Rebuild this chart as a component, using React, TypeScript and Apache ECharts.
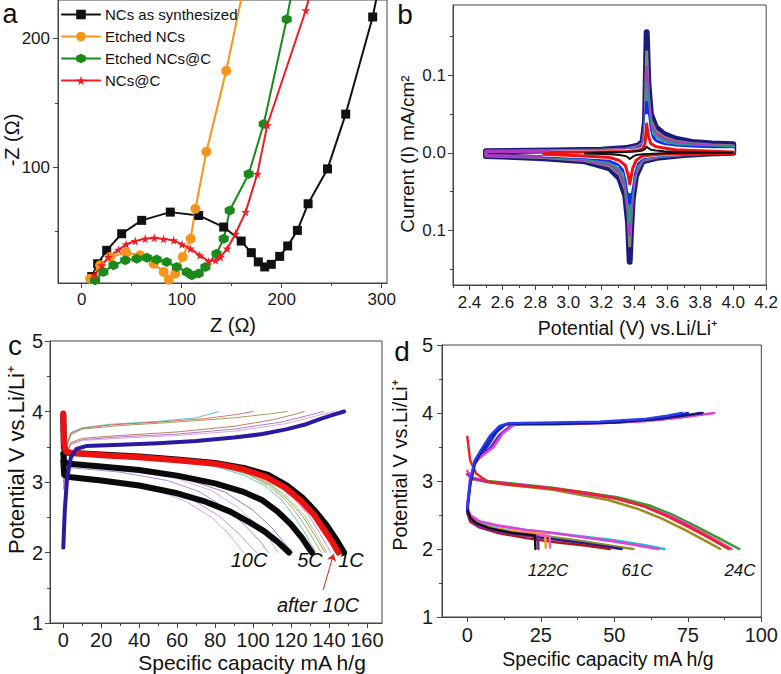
import React, { useEffect, useRef } from "react";
import * as echarts from "echarts";

const FONT = "'Liberation Sans', Arial, Helvetica, sans-serif";

// ---------------- Panel a : Nyquist plots ----------------
const A_NAMES = ["NCs as synthesized", "Etched NCs", "Etched NCs@C", "NCs@C"];
const A_BLACK = [[10,15],[16,25],[25,35.4],[40,48.3],[60,58.7],[88.6,65.1],[117,62.5],[142,53.5],[159.5,42.6],[169.6,33.6],[176.6,26.4],[183,22.5],[189.6,24.5],[198,30.7],[206,38.8],[215.7,50.9],[226.4,71.6],[245.8,98.7],[264,141.3],[291,216.8],[297,240]];
const A_ORANGE = [[8.4,13.4],[18.4,23.8],[28.4,30.2],[44.5,33.6],[58.5,31.5],[72,25],[82,18.6],[87,12.5],[93.6,17.3],[101,30.2],[109,44.4],[113.7,67.7],[124.7,112],[144.5,175],[162,240]];
const A_GREEN = [[13.4,12.1],[21.7,18.6],[31.8,23.8],[43.5,27.6],[55,28.9],[65.2,29.7],[75,28.2],[85,26.4],[95,22.5],[105,18.6],[110,16],[117,17.3],[123.7,22.5],[134.8,32.8],[142,44.4],[148,66.4],[167,94.8],[182,133.6],[205,215],[211,240]];
const A_RED = [[12.7,16],[20.1,23.8],[26.8,30.2],[36.8,35.9],[44.5,40.1],[53.5,42.6],[63.5,44.4],[72.6,45.2],[81.9,44.2],[92,43.2],[100.3,40.1],[108.7,36.7],[118.1,31.5],[127.1,26.9],[133.8,27.6],[138.8,30.2],[145.5,36.7],[153.8,48.3],[163.9,65.1],[175.6,94.8],[185.6,132.8],[224.1,222],[230,240]];
const A_X_MAJOR = [0, 100, 200, 300];
const A_X_MINOR = [50, 150, 250];
const A_Y_MAJOR = [100, 200];
const A_Y_MINOR = [50, 150];

// ---------------- Panel b : cyclic voltammetry ----------------
const B_POT_ANODIC = [2.5, 2.9, 3.2, 3.35, 3.42, 3.45, 3.465, 3.475, 3.485, 3.5, 3.53, 3.58, 3.65, 3.75, 3.87, 4.0];
const B_POT_CATHODIC = [4.0, 3.85, 3.7, 3.55, 3.45, 3.41, 3.39, 3.38, 3.372, 3.362, 3.345, 3.31, 3.25, 3.1, 2.85, 2.5];
const B_NAVY_A = [0.002, 0.003, 0.004, 0.006, 0.009, 0.014, 0.04, 0.155, 0.09, 0.05, 0.033, 0.024, 0.018, 0.014, 0.012, 0.011];
const B_NAVY_C = [0.0, -0.001, -0.003, -0.006, -0.011, -0.03, -0.06, -0.1, -0.14, -0.09, -0.055, -0.033, -0.02, -0.011, -0.007, -0.004];
const B_OLIVE_A = [0.002, 0.0025, 0.0035, 0.005, 0.008, 0.012, 0.035, 0.13, 0.075, 0.042, 0.028, 0.02, 0.015, 0.012, 0.01, 0.009];
const B_OLIVE_C = [0.0, -0.001, -0.0025, -0.005, -0.01, -0.026, -0.052, -0.085, -0.12, -0.078, -0.047, -0.028, -0.017, -0.01, -0.006, -0.004];
const B_PURPLE_A = [0.0015, 0.002, 0.003, 0.0045, 0.007, 0.011, 0.03, 0.11, 0.065, 0.037, 0.025, 0.018, 0.013, 0.011, 0.009, 0.008];
const B_PURPLE_C = [0.0, -0.001, -0.002, -0.0045, -0.009, -0.023, -0.046, -0.075, -0.105, -0.07, -0.042, -0.025, -0.015, -0.009, -0.0055, -0.0035];
const B_TEAL_A = [null, 0.002, 0.0025, 0.004, 0.006, 0.01, 0.026, 0.09, 0.055, 0.032, 0.021, 0.015, 0.011, 0.009, 0.008, 0.007];
const B_TEAL_C = [0.0, -0.001, -0.002, -0.004, -0.008, -0.02, -0.04, -0.065, -0.09, -0.06, -0.036, -0.021, -0.013, -0.008, -0.005, null];
const B_BLUE_A = [null, 0.0015, 0.002, 0.003, 0.005, 0.008, 0.02, 0.065, 0.04, 0.024, 0.016, 0.011, 0.008, 0.007, 0.006, 0.005];
const B_BLUE_C = [0.0, -0.001, -0.0015, -0.003, -0.006, -0.016, -0.032, -0.05, -0.065, -0.045, -0.027, -0.016, -0.01, -0.006, -0.004, null];
const B_WHITE_A = [null, 0.001, 0.0015, 0.0025, 0.004, 0.006, 0.015, 0.048, 0.03, 0.017, 0.011, 0.008, 0.006, 0.005, 0.004, 0.004];
const B_WHITE_C = [0.0, -0.0005, -0.001, -0.0025, -0.005, -0.012, -0.025, -0.04, -0.05, -0.035, -0.02, -0.012, -0.007, -0.005, -0.003, null];
const B_RED_A = [null, 0.0008, 0.001, 0.0015, 0.003, 0.005, 0.012, 0.037, 0.022, 0.012, 0.008, 0.006, 0.004, 0.003, 0.002, 0.001];
const B_RED_C = [-0.001, -0.001, -0.001, -0.002, -0.004, -0.01, -0.02, -0.032, -0.04, -0.028, -0.016, -0.01, -0.006, -0.004, -0.002, null];
const B_BLACK_A = [null, null, 0.0005, 0.001, 0.002, 0.003, 0.005, 0.008, 0.006, 0.004, 0.003, 0.002, 0.001, 0.001, 0.0, 0.0];
const B_BLACK_C = [0.0, 0.0, 0.0, -0.001, -0.002, -0.003, -0.005, -0.007, -0.008, -0.006, -0.004, -0.003, -0.002, -0.001, null, null];
const B_X_MAJOR = [2.4, 2.6, 2.8, 3.0, 3.2, 3.4, 3.6, 3.8, 4.0, 4.2];
const B_X_MINOR = [2.3, 2.5, 2.7, 2.9, 3.1, 3.3, 3.5, 3.7, 3.9, 4.1];
const B_Y_MAJOR = [-0.1, 0, 0.1];
const B_Y_MINOR = [-0.15, -0.05, 0.05, 0.15];

// ---------------- Panel c : rate charge/discharge ----------------
const C_1C = [[0,3.95],[0.3,3.5],[1,3.42],[5,3.41],[20,3.39],[40,3.36],[60,3.32],[80,3.27],[95,3.2],[108,3.1],[118,2.95],[126,2.78],[133,2.58],[139,2.38],[144,2.18],[148,2.0]];
const C_AFTER10C = [[0,3.97],[0.3,3.55],[1.5,3.43],[5,3.41],[20,3.38],[40,3.35],[60,3.31],[80,3.26],[95,3.18],[107,3.07],[117,2.92],[125,2.74],[132,2.54],[137,2.34],[142,2.14],[145,2.0]];
const C_5C = [[0,3.4],[0.5,3.28],[3,3.26],[20,3.22],[40,3.17],[60,3.09],[80,2.98],[95,2.86],[105,2.74],[113,2.58],[120,2.4],[126,2.2],[131,2.0]];
const C_10C = [[0,3.3],[0.5,3.1],[3,3.07],[20,3.02],[40,2.95],[60,2.84],[75,2.72],[88,2.58],[98,2.43],[106,2.3],[113,2.15],[119,2.0]];
const C_CHARGE = [[0,2.07],[0.8,2.6],[2,3.05],[4,3.35],[7,3.47],[12,3.51],[30,3.53],[50,3.55],[70,3.58],[90,3.63],[105,3.68],[118,3.75],[128,3.82],[136,3.9],[143,3.96],[148,4.0]];
const C_THIN_CHARGE = [
  [[0.3,3.0],[1.5,3.5],[4,3.7],[10,3.77],[25,3.82],[50,3.86],[70,3.91],[82,4.0]],
  [[0.3,3.0],[1.5,3.5],[4,3.69],[10,3.76],[25,3.81],[50,3.85],[75,3.9],[92,3.96],[100,4.0]],
  [[0.3,3.0],[1.5,3.48],[4,3.67],[10,3.75],[30,3.8],[60,3.85],[90,3.91],[110,3.97],[118,4.0]],
  [[0.3,2.9],[1.5,3.4],[4,3.56],[10,3.62],[30,3.66],[60,3.71],[90,3.79],[110,3.88],[122,3.96],[127,4.0]],
  [[0.3,2.9],[1.5,3.38],[4,3.54],[10,3.6],[30,3.64],[60,3.68],[90,3.75],[115,3.85],[130,3.95],[137,4.0]],
  [[0.3,2.9],[1.5,3.36],[4,3.53],[10,3.59],[30,3.62],[60,3.66],[90,3.72],[118,3.83],[135,3.95],[143,4.0]],
];
const C_THIN_CHARGE_COLORS = ["#3cb8b0", "#d84848", "#8c8c3c", "#b0603a", "#8a60c8", "#e088c8"];
const C_THIN_DISCHARGE = [
  [[0,3.95],[0.5,3.45],[5,3.4],[30,3.36],[60,3.29],[80,3.22],[95,3.1],[106,2.95],[115,2.75],[122,2.5],[128,2.25],[133,2.0]],
  [[0,3.95],[0.5,3.45],[5,3.4],[30,3.37],[60,3.3],[82,3.23],[97,3.11],[108,2.95],[117,2.75],[124,2.52],[130,2.27],[136,2.0]],
  [[0.5,3.45],[5,3.41],[30,3.37],[60,3.3],[84,3.23],[99,3.12],[110,2.96],[119,2.77],[127,2.53],[133,2.28],[139,2.0]],
  [[0.5,3.45],[5,3.41],[30,3.37],[60,3.31],[85,3.24],[101,3.13],[112,2.97],[121,2.78],[129,2.54],[135,2.28],[141,2.0]],
  [[0.5,3.44],[5,3.4],[30,3.36],[60,3.3],[83,3.22],[98,3.11],[109,2.96],[118,2.76],[126,2.52],[132,2.27],[138,2.0]],
];
const C_THIN_DISCHARGE_COLORS = ["#40b4b4", "#98983a", "#e09858", "#e070b0", "#50a050"];
const C_THIN_MID = [
  [[0.5,3.1],[5,3.05],[30,2.98],[50,2.88],[65,2.72],[78,2.5],[86,2.3],[92,2.1],[95,2.0]],
  [[0.5,3.12],[5,3.06],[30,3.0],[50,2.9],[68,2.75],[82,2.52],[92,2.28],[99,2.08],[102,2.0]],
  [[0.5,3.2],[5,3.2],[30,3.14],[55,3.02],[72,2.86],[86,2.62],[96,2.38],[104,2.15],[108,2.0]],
  [[0.5,3.25],[5,3.24],[30,3.18],[60,3.05],[78,2.88],[92,2.64],[102,2.4],[109,2.18],[113,2.0]],
  [[0.5,3.26],[5,3.25],[35,3.18],[65,3.04],[85,2.86],[100,2.6],[110,2.35],[117,2.12],[121,2.0]],
];
const C_THIN_MID_COLORS = ["#b090e8", "#c070d0", "#9070d0", "#d090e0", "#7060c0"];
const C_ARROW = [[137, 1.47], [142.5, 1.98]];
const C_X_MAJOR = [0, 20, 40, 60, 80, 100, 120, 140, 160];
const C_X_MINOR = [10, 30, 50, 70, 90, 110, 130, 150];
const CD_Y_MAJOR = [1, 2, 3, 4, 5];
const CD_Y_MINOR = [1.5, 2.5, 3.5, 4.5];

// ---------------- Panel d : high-rate charge/discharge ----------------
const D_CHARGE = [
  [[0,2.6],[1,2.95],[2.5,3.25],[5,3.4],[7.5,3.55],[10,3.72],[13,3.83],[18,3.85],[30,3.85],[45,3.86],[60,3.89],[70,3.95],[75,4.0]],
  [[0,2.6],[1,3.0],[2.5,3.28],[5,3.38],[8,3.5],[11,3.68],[15,3.82],[20,3.84],[35,3.84],[50,3.86],[65,3.9],[75,3.95],[79,4.0]],
  [[0,2.65],[1,3.05],[3,3.3],[6,3.4],[9,3.5],[12,3.7],[16,3.83],[25,3.84],[45,3.85],[60,3.88],[75,3.95],[84,4.0]],
  [[0,2.55],[1,2.95],[2.5,3.25],[5,3.45],[8,3.65],[11,3.8],[14,3.84],[30,3.84],[50,3.86],[65,3.91],[75,3.97],[80,4.0]],
  [[0,2.6],[1,3.0],[2.5,3.3],[5,3.48],[8,3.68],[11,3.81],[14,3.85],[30,3.86],[45,3.87],[60,3.91],[68,3.96],[73,4.0]],
];
const D_CHARGE_COLORS = ["#1428e0", "#6a2aa8", "#e040e0", "#141a70", "#2a3cf0"];
const D_24C = [
  [[0,3.1],[1.5,3.03],[7,2.98],[29,2.87],[48,2.72],[58,2.59],[66,2.45],[74,2.28],[81,2.12],[86,2.0]],
  [[0,3.1],[1.5,3.05],[7,3.0],[29,2.9],[51,2.76],[62,2.64],[70,2.5],[78,2.33],[86,2.15],[92.5,2.0]],
  [[0,3.15],[1.5,3.05],[7,2.99],[29,2.89],[50,2.75],[61,2.62],[69,2.49],[77,2.32],[84,2.15],[90,2.0]],
  [[0,3.1],[1.5,3.04],[7,2.99],[29,2.89],[50,2.75],[60,2.63],[68,2.49],[76,2.32],[83,2.15],[89,2.0]],
  [[0,3.65],[1,3.3],[3,3.11],[7,2.99],[15,2.94],[29,2.89],[40,2.83],[51,2.74],[60,2.63],[68,2.48],[75,2.33],[82,2.17],[89,2.0]],
];
const D_24C_COLORS = ["#9a8a20", "#2ca02c", "#f050a0", "#c020c0", "#e8262a"];
const D_61C = [
  [[0,2.6],[1,2.48],[4,2.4],[10,2.34],[20,2.28],[30,2.23],[40,2.18],[50,2.13],[60,2.06],[67,2.0]],
  [[0,2.62],[1,2.5],[4,2.41],[10,2.35],[20,2.28],[30,2.23],[40,2.17],[50,2.11],[58,2.05],[65,2.0]],
  [[0,2.55],[1,2.45],[4,2.37],[10,2.3],[20,2.23],[30,2.17],[40,2.11],[50,2.04],[56.5,2.0]],
  [[0,2.55],[1,2.43],[4,2.35],[10,2.28],[20,2.2],[30,2.14],[40,2.08],[48,2.03],[52.5,2.0]],
  [[0,2.53],[1,2.4],[4,2.32],[10,2.24],[20,2.16],[30,2.1],[40,2.05],[48.5,2.0]],
];
const D_61C_COLORS = ["#20c0c0", "#e040e0", "#909030", "#202090", "#b01818"];
const D_122C = [
  [[0,2.56],[1,2.45],[3,2.37],[8,2.31],[16,2.26],[26.5,2.22],[26.7,2.02]],
  [[0,2.55],[1,2.44],[3,2.36],[8,2.3],[16,2.24],[28,2.19],[28.2,2.02]],
  [[0,2.55],[1,2.43],[3,2.35],[8,2.28],[15,2.22],[24,2.18],[24.2,2.0]],
  [[0,2.58],[1,2.46],[3,2.38],[8,2.3],[15,2.24],[23,2.2],[23.2,2.0]],
];
const D_122C_COLORS = ["#f0a020", "#f060c0", "#8020a0", "#111111"];
const D_X_MAJOR = [0, 25, 50, 75, 100];
const D_X_MINOR = [12.5, 37.5, 62.5, 87.5];

// ---------------- helpers ----------------
function axes(isX: boolean, gi: number, min: number, max: number, majors: number[], minors: number[], fontSize: number, margin: number, formatter?: (v: number) => string) {
  const pos = isX ? "bottom" : "left";
  return [
    {
      type: "value", gridIndex: gi, min, max, position: pos, scale: true,
      axisLine: { show: true, onZero: false, lineStyle: { color: "#444", width: 1 } },
      axisTick: { show: true, customValues: majors, length: 5, lineStyle: { color: "#444", width: 1 } },
      axisLabel: { show: true, customValues: majors, fontSize, fontFamily: FONT, color: "#1a1a1a", margin, formatter: formatter || ((v: number) => String(v)) },
      splitLine: { show: false },
    },
    {
      type: "value", gridIndex: gi, min, max, position: pos, scale: true,
      axisLine: { show: false, onZero: false },
      axisTick: { show: true, customValues: minors, length: 3, lineStyle: { color: "#444", width: 1 } },
      axisLabel: { show: false },
      splitLine: { show: false },
    },
  ];
}

function line(data: any[], color: string, width: number, gi: number, extra: any = {}) {
  return {
    type: "line", data, xAxisIndex: gi * 2, yAxisIndex: gi * 2,
    showSymbol: false, symbol: "none", smooth: false, silent: true, clip: true,
    lineStyle: { color, width, cap: "round", join: "round" }, itemStyle: { color },
    animation: false, ...extra,
  };
}

function loop(a: (number | null)[], c: (number | null)[]) {
  const pts: number[][] = [];
  B_POT_ANODIC.forEach((p, i) => { if (a[i] !== null) pts.push([p, a[i] as number]); });
  B_POT_CATHODIC.forEach((p, i) => { if (c[i] !== null) pts.push([p, c[i] as number]); });
  pts.push(pts[0]);
  return pts;
}

const HEX = "path://M5 0 L9.33 2.5 L9.33 7.5 L5 10 L0.67 7.5 L0.67 2.5 Z";
const STAR = "path://M50 0 L61 35 L98 35 L68 57 L79 91 L50 70 L21 91 L32 57 L2 35 L39 35 Z";

function txt(text: string, x: number, y: number, size: number, opts: any = {}) {
  return {
    type: "text", x, y, rotation: opts.rotation || 0, silent: true,
    style: {
      text, fill: opts.color || "#111", font: `${opts.italic ? "italic " : ""}${size}px ${FONT}`,
      align: "center", verticalAlign: "middle",
    },
  };
}

function buildOption() {
  const xAxis = [
    ...axes(true, 0, -23.7, 305.3, A_X_MAJOR, A_X_MINOR, 17, 8),
    ...axes(true, 1, 2.3, 4.2, B_X_MAJOR, B_X_MINOR, 17, 9, (v) => v.toFixed(1)),
    ...axes(true, 2, -7, 168, C_X_MAJOR, C_X_MINOR, 20, 7),
    ...axes(true, 3, -8.6, 100, D_X_MAJOR, D_X_MINOR, 20, 8),
  ];
  const yAxis = [
    ...axes(false, 0, 10, 230, A_Y_MAJOR, A_Y_MINOR, 17, 8),
    ...axes(false, 1, -0.17, 0.19, B_Y_MAJOR, B_Y_MINOR, 17, 7, (v) => Math.abs(v).toFixed(1)),
    ...axes(false, 2, 1, 5, CD_Y_MAJOR, CD_Y_MINOR, 20, 7),
    ...axes(false, 3, 1, 5, CD_Y_MAJOR, CD_Y_MINOR, 20, 9),
  ];
  const gridStyle = { show: true, borderColor: "#444", borderWidth: 1, backgroundColor: "transparent", containLabel: false };
  const grid = [
    { left: 58, top: -1, width: 329, height: 284, ...gridStyle },
    { left: 453, top: 5, width: 318, height: 280, ...gridStyle },
    { left: 50, top: 341, width: 332, height: 282, ...gridStyle },
    { left: 442, top: 345, width: 331, height: 272, ...gridStyle },
  ];

  const series: any[] = [];
  // panel a
  const aSym = (sym: string, size: number) => ({ showSymbol: true, symbol: sym, symbolSize: size });
  series.push(line(A_BLACK, "#111111", 2, 0, { name: A_NAMES[0], ...aSym("rect", 9) }));
  series.push(line(A_ORANGE, "#f7941d", 2, 0, { name: A_NAMES[1], ...aSym("circle", 10) }));
  series.push(line(A_GREEN, "#1a8a1a", 2, 0, { name: A_NAMES[2], ...aSym(HEX, 10) }));
  series.push(line(A_RED, "#ee1c24", 2, 0, { name: A_NAMES[3], ...aSym(STAR, 9) }));

  // panel b
  const loops: [any[], any[], string, number][] = [
    [B_NAVY_A, B_NAVY_C, "#1b1b7c", 6],
    [B_OLIVE_A, B_OLIVE_C, "#7d8a6b", 3],
    [B_PURPLE_A, B_PURPLE_C, "#b038c0", 3],
    [B_TEAL_A, B_TEAL_C, "#2a9a8a", 2.5],
    [B_BLUE_A, B_BLUE_C, "#1a2cf0", 3],
    [B_WHITE_A, B_WHITE_C, "#ffffff", 3],
    [B_RED_A, B_RED_C, "#ee1111", 3],
    [B_BLACK_A, B_BLACK_C, "#111111", 2],
  ];
  loops.forEach(([a, c, col, w]) => series.push(line(loop(a, c), col, w, 1)));

  // panel c
  C_THIN_MID.forEach((d, i) => series.push(line(d, C_THIN_MID_COLORS[i], 0.8, 2)));
  C_THIN_DISCHARGE.forEach((d, i) => series.push(line(d, C_THIN_DISCHARGE_COLORS[i], 0.8, 2)));
  C_THIN_CHARGE.forEach((d, i) => series.push(line(d, C_THIN_CHARGE_COLORS[i], 0.8, 2)));
  series.push(line(C_10C, "#0a0a0a", 6, 2));
  series.push(line(C_5C, "#0a0a0a", 6, 2));
  series.push(line(C_1C, "#0a0a0a", 6, 2));
  series.push(line(C_AFTER10C, "#ee1111", 6, 2, {
    markLine: {
      silent: true, animation: false, symbol: ["none", "arrow"], symbolSize: 7,
      lineStyle: { color: "#e02020", width: 1, type: "solid" }, label: { show: false },
      data: [[{ coord: C_ARROW[0] }, { coord: C_ARROW[1] }]],
    },
  }));
  series.push(line(C_CHARGE, "#2a1aa0", 4, 2));

  // panel d
  D_24C.forEach((d, i) => series.push(line(d, D_24C_COLORS[i], 2.5, 3)));
  D_61C.forEach((d, i) => series.push(line(d, D_61C_COLORS[i], 2.5, 3)));
  D_122C.forEach((d, i) => series.push(line(d, D_122C_COLORS[i], 2.5, 3)));
  D_CHARGE.forEach((d, i) => series.push(line(d, D_CHARGE_COLORS[i], 2.5, 3)));

  const graphic = [
    txt("a", 10, 14, 27),
    txt("b", 405, 14, 28),
    txt("c", 15, 345, 28),
    txt("d", 402, 351, 28),
    txt("Z (Ω)", 233, 325, 20),
    txt("-Z (Ω)", 12, 140, 20, { rotation: Math.PI / 2 }),
    txt("Current (I) mA/cm²", 407, 154, 19, { rotation: Math.PI / 2 }),
    txt("Potential (V) vs.Li/Li⁺", 628, 328, 19.5),
    txt("Potential V vs.Li/Li⁺", 16, 460, 22, { rotation: Math.PI / 2 }),
    txt("Specific capacity mA h/g", 252, 662, 21),
    txt("Potential V vs.Li/Li⁺", 400, 465, 20, { rotation: Math.PI / 2 }),
    txt("Specific capacity mA h/g", 608, 659, 19.5),
    txt("10C", 249, 560, 20, { italic: true }),
    txt("5C", 310, 560, 20, { italic: true }),
    txt("1C", 351, 560, 20, { italic: true }),
    txt("after 10C", 318, 605, 20, { italic: true }),
    txt("122C", 548, 570, 17, { italic: true }),
    txt("61C", 637, 570, 17, { italic: true }),
    txt("24C", 740, 570, 17, { italic: true }),
  ];

  return {
    animation: false,
    backgroundColor: "#ffffff",
    textStyle: { fontFamily: FONT },
    grid,
    xAxis,
    yAxis,
    legend: {
      data: A_NAMES, orient: "vertical", left: 61, top: 7, itemWidth: 38, itemHeight: 12, itemGap: 7,
      textStyle: { fontSize: 15, fontFamily: FONT, color: "#111" }, selectedMode: false, padding: 0,
    },
    graphic,
    series,
  };
}

export default function App() {
  const ref = useRef<HTMLDivElement>(null);
  useEffect(() => {
    const chart = echarts.init(ref.current as HTMLDivElement, null, { renderer: "svg" });
    chart.setOption(buildOption() as any);
    return () => chart.dispose();
  }, []);
  return (
    <div
      ref={ref}
      style={{ position: "absolute", left: 0, top: 0, width: 781, height: 674, background: "#fff" }}
    />
  );
}
